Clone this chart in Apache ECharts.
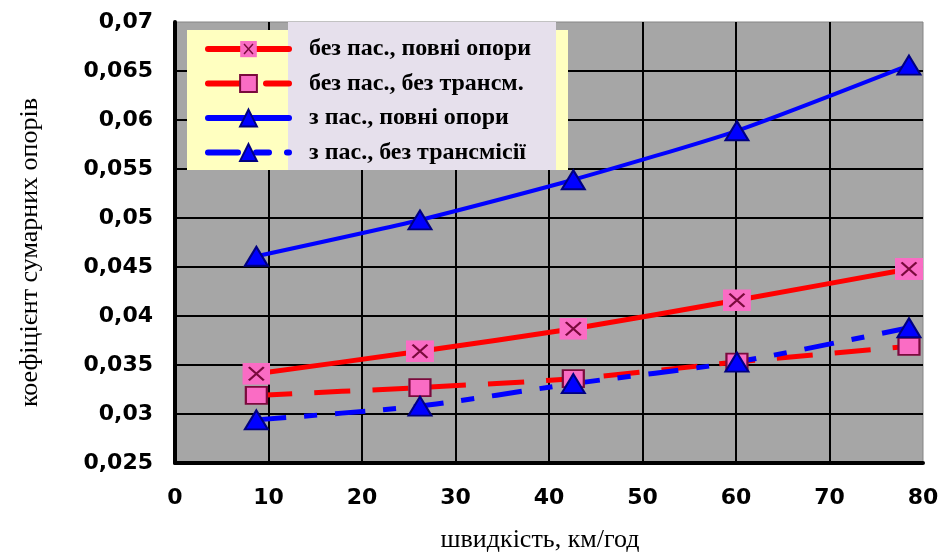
<!DOCTYPE html>
<html>
<head>
<meta charset="utf-8">
<script src="https://cdn.jsdelivr.net/npm/echarts@6/dist/echarts.min.js"></script>
<style>html,body{margin:0;padding:0;background:#fff}#c{width:941px;height:553px}</style>
</head>
<body>
<div id="c"></div>
<script>
const xValues = [8.7, 26.2, 42.6, 60.1, 78.5];
const seriesNames = ['без пас., повні опори', 'без пас., без трансм.', 'з пас., повні опори', 'з пас., без трансмісії'];
const s1 = [0.0341, 0.0364, 0.0387, 0.0416, 0.0448];
const s2 = [0.0319, 0.0327, 0.0336, 0.0353, 0.0369];
const s3 = [0.0461, 0.0498, 0.0539, 0.0589, 0.0656];
const s4 = [0.0294, 0.0308, 0.0331, 0.0353, 0.0388];
const xTicks = [0, 10, 20, 30, 40, 50, 60, 70, 80];
const yTicks = [0.025, 0.03, 0.035, 0.04, 0.045, 0.05, 0.055, 0.06, 0.065, 0.07];

const pair = arr => arr.map((v, i) => [xValues[i], v]);
const xSvg = '<svg xmlns="http://www.w3.org/2000/svg" width="60" height="60" viewBox="0 0 30 30" preserveAspectRatio="none">' +
  '<rect x="0" y="0" width="30" height="30" fill="#fa6cc4"/>' +
  '<path d="M7 6 L23 24 M23 6 L7 24" stroke="#7a0a3c" stroke-width="2.6" fill="none"/></svg>';
const xSymbol = 'image://data:image/svg+xml;charset=utf-8,' + encodeURIComponent(xSvg);

const chart = echarts.init(document.getElementById('c'), null, {renderer: 'canvas'});
const gridLineColors = n => { const a = []; for (let i = 0; i < n - 1; i++) a.push('#000'); a.push('rgba(0,0,0,0)'); return a; };

chart.setOption({
  animation: false,
  backgroundColor: '#fff',
  grid: {left: 175, right: 18, top: 22, bottom: 90, outerBoundsMode: 'none', containLabel: false,
    show: true, backgroundColor: '#a6a6a6', borderColor: '#858585', borderWidth: 1},
  xAxis: {
    type: 'value', min: xTicks[0], max: xTicks[xTicks.length - 1], interval: 10,
    name: 'швидкість, км/год', nameLocation: 'middle', nameGap: 64,
    nameTextStyle: {fontFamily: 'Liberation Serif', fontSize: 26, color: '#000', padding: [0, 18, 0, 0]},
    axisLine: {show: true, onZero: false, lineStyle: {color: '#000', width: 4}},
    axisTick: {show: false},
    axisLabel: {margin: 24, fontFamily: 'DejaVu Sans', fontWeight: 'bold', fontSize: 22, color: '#000'},
    splitLine: {show: true, lineStyle: {color: gridLineColors(xTicks.length), width: 2}}
  },
  yAxis: {
    type: 'value', min: yTicks[0], max: yTicks[yTicks.length - 1], interval: 0.005,
    name: 'коефіцієнт сумарних опорів', nameLocation: 'middle', nameGap: 132,
    nameTextStyle: {fontFamily: 'Liberation Serif', fontSize: 26, color: '#000', padding: [0, 20, 0, 0]},
    axisLine: {show: true, onZero: false, lineStyle: {color: '#000', width: 4}},
    axisTick: {show: false},
    axisLabel: {margin: 22, fontFamily: 'DejaVu Sans', fontWeight: 'bold', fontSize: 22, color: '#000',
      formatter: v => String(+v.toFixed(3)).replace('.', ',')},
    splitLine: {show: true, lineStyle: {color: gridLineColors(yTicks.length), width: 2}}
  },
  graphic: [
    {type: 'rect', z: 3, shape: {x: 187, y: 30, width: 381, height: 140}, style: {fill: '#ffffc0'}},
    {type: 'rect', z: 3, shape: {x: 288, y: 22, width: 268, height: 148}, style: {fill: '#e6e0ec'}}
  ],
  legend: {
    orient: 'vertical', left: 205, top: 37, z: 5, padding: 0,
    itemWidth: 81, itemHeight: 21, itemGap: 10.5, symbolKeepAspect: false,
    lineStyle: {width: 6, cap: 'round'},
    textStyle: {fontFamily: 'Liberation Serif', fontWeight: 'bold', fontSize: 24, color: '#000', lineHeight: 22, padding: [0, 0, 0, 15]},
    data: seriesNames
  },
  series: [
    {name: seriesNames[0], type: 'line', data: pair(s1), smooth: 0.2,
      symbol: xSymbol, symbolSize: [28, 22], symbolKeepAspect: false,
      lineStyle: {color: '#ff0000', width: 5}, itemStyle: {color: '#ff0000'}},
    {name: seriesNames[1], type: 'line', data: pair(s2), smooth: 0.2,
      symbol: 'rect', symbolSize: [21, 17],
      lineStyle: {color: '#ff0000', width: 5, type: [36, 22]},
      itemStyle: {color: '#fa6cc4', borderColor: '#7a0a3c', borderWidth: 2}},
    {name: seriesNames[2], type: 'line', data: pair(s3), smooth: 0.2,
      symbol: 'triangle', symbolSize: [23, 19],
      lineStyle: {color: '#0000ff', width: 4},
      itemStyle: {color: '#0000ff', borderColor: '#000080', borderWidth: 2}},
    {name: seriesNames[3], type: 'line', data: pair(s4), smooth: 0.2,
      symbol: 'triangle', symbolSize: [23, 19],
      lineStyle: {color: '#0000ff', width: 5, type: [30, 18, 13, 18]},
      itemStyle: {color: '#0000ff', borderColor: '#000080', borderWidth: 2}}
  ]
});
</script>
</body>
</html>
